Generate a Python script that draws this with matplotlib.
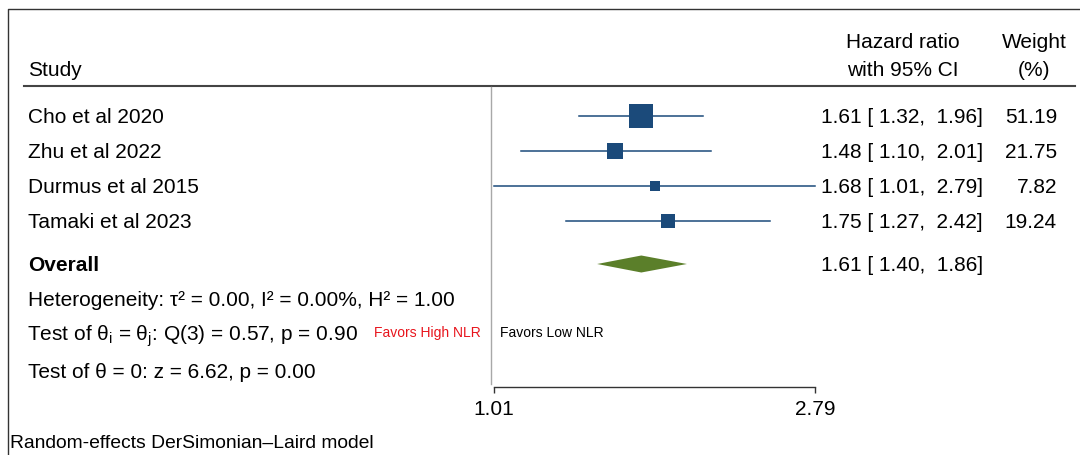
import matplotlib
matplotlib.use("Agg")
import matplotlib.pyplot as plt
from matplotlib.patches import Polygon
import numpy as np

plt.rcParams['font.family'] = ['Liberation Sans', 'DejaVu Sans']
plt.rcParams['mathtext.fontset'] = 'custom'
plt.rcParams['mathtext.rm'] = 'Liberation Sans'
plt.rcParams['mathtext.it'] = 'Liberation Sans'

# data
studies = ["Cho et al 2020", "Zhu et al 2022", "Durmus et al 2015", "Tamaki et al 2023"]
hr = [1.61, 1.48, 1.68, 1.75]
lo = [1.32, 1.10, 1.01, 1.27]
hi = [1.96, 2.01, 2.79, 2.42]
weights = [51.19, 21.75, 7.82, 19.24]
overall = (1.61, 1.40, 1.86)
axis_ticks = [1.01, 2.79]

NAVY = "#1b4a7a"
GREEN = "#5b7f2a"
FS = 15

W, H = 1080, 456
fig = plt.figure(figsize=(W / 100, H / 100), dpi=100)

# overlay in pixel coordinates for all the text columns
bg = fig.add_axes([0, 0, 1, 1])
bg.set_xlim(0, W)
bg.set_ylim(H, 0)
bg.axis("off")

# frame and header line
bg.plot([8, 8, W], [H, 10, 10], color="#333333", lw=1)
bg.plot([24, 1075], [87, 87], color="#444444", lw=1.5)

bg.text(28, 70, "Study", fontsize=FS, va="center")
bg.text(903, 42, "Hazard ratio", fontsize=FS, va="center", ha="center")
bg.text(903, 70, "with 95% CI", fontsize=FS, va="center", ha="center")
bg.text(1034, 42, "Weight", fontsize=FS, va="center", ha="center")
bg.text(1034, 70, "(%)", fontsize=FS, va="center", ha="center")

row_y = [117, 152, 187, 222]
for y, s, h, l, u, w in zip(row_y, studies, hr, lo, hi, weights):
    bg.text(28, y + 1, s, fontsize=FS, va="center")
    bg.text(821, y + 1, f"{h:.2f} [ {l:.2f},  {u:.2f}]", fontsize=FS, va="center")
    bg.text(1057, y + 1, f"{w:.2f}", fontsize=FS, va="center", ha="right")

oy = 265
bg.text(28, oy + 1, "Overall", fontsize=FS, va="center", fontweight="bold")
bg.text(821, oy + 1, f"{overall[0]:.2f} [ {overall[1]:.2f},  {overall[2]:.2f}]",
        fontsize=FS, va="center")

bg.text(28, 301, "Heterogeneity: τ² = 0.00, I² = 0.00%, H² = 1.00", fontsize=FS, va="center")
bg.text(27, 336, r"Test of θ$_\mathregular{i}$ = θ$_\mathregular{j}$: Q(3) = 0.57, p = 0.90",
        fontsize=FS, va="center")
bg.text(28, 373, "Test of θ = 0: z = 6.62, p = 0.00", fontsize=FS, va="center")
bg.text(10, 444, "Random-effects DerSimonian–Laird model", fontsize=13.9, va="center")

bg.text(481, 333, "Favors High NLR", fontsize=10, color="#e8141c", va="center", ha="right")
bg.text(500, 333, "Favors Low NLR", fontsize=10, color="black", va="center", ha="left")

# forest panel: log x-scale, y in pixels (bottom spine at y=388)
x0, x1, ytop, ybot = 494, 815, 20, 388
ax = fig.add_axes([x0 / W, (H - ybot) / H, (x1 - x0) / W, (ybot - ytop) / H])
ax.patch.set_alpha(0)
ax.set_xscale("log")
ax.set_xlim(axis_ticks[0], axis_ticks[1])
ax.set_ylim(ybot, ytop)
for sp in ["top", "left", "right"]:
    ax.spines[sp].set_visible(False)
ax.spines["bottom"].set_color("#333333")
ax.spines["bottom"].set_linewidth(1)
ax.set_yticks([])
ax.set_xticks(axis_ticks)
ax.set_xticklabels([f"{t:.2f}" for t in axis_ticks])
ax.xaxis.set_minor_locator(matplotlib.ticker.NullLocator())
ax.tick_params(axis="x", length=4, width=1, color="#333333", labelsize=FS, pad=5)

# null line at HR = 1
ax.plot([1.0, 1.0], [88, 385], color="#a8a8a8", lw=1, clip_on=False)

for y, h, l, u, w in zip(row_y, hr, lo, hi, weights):
    ax.plot([l, u], [y, y], color=NAVY, lw=1.1, clip_on=False, zorder=2)
    side_px = 3.36 * np.sqrt(w)
    ax.scatter([h], [y], marker="s", s=(side_px * 0.72) ** 2, color=NAVY,
               linewidths=0, zorder=3, clip_on=False)

est, olo, ohi = overall
ax.add_patch(Polygon([[olo, oy], [est, oy - 8.5], [ohi, oy], [est, oy + 8.5]],
                     closed=True, facecolor=GREEN, edgecolor="none", zorder=3))

fig.savefig("out.png", dpi=100)
